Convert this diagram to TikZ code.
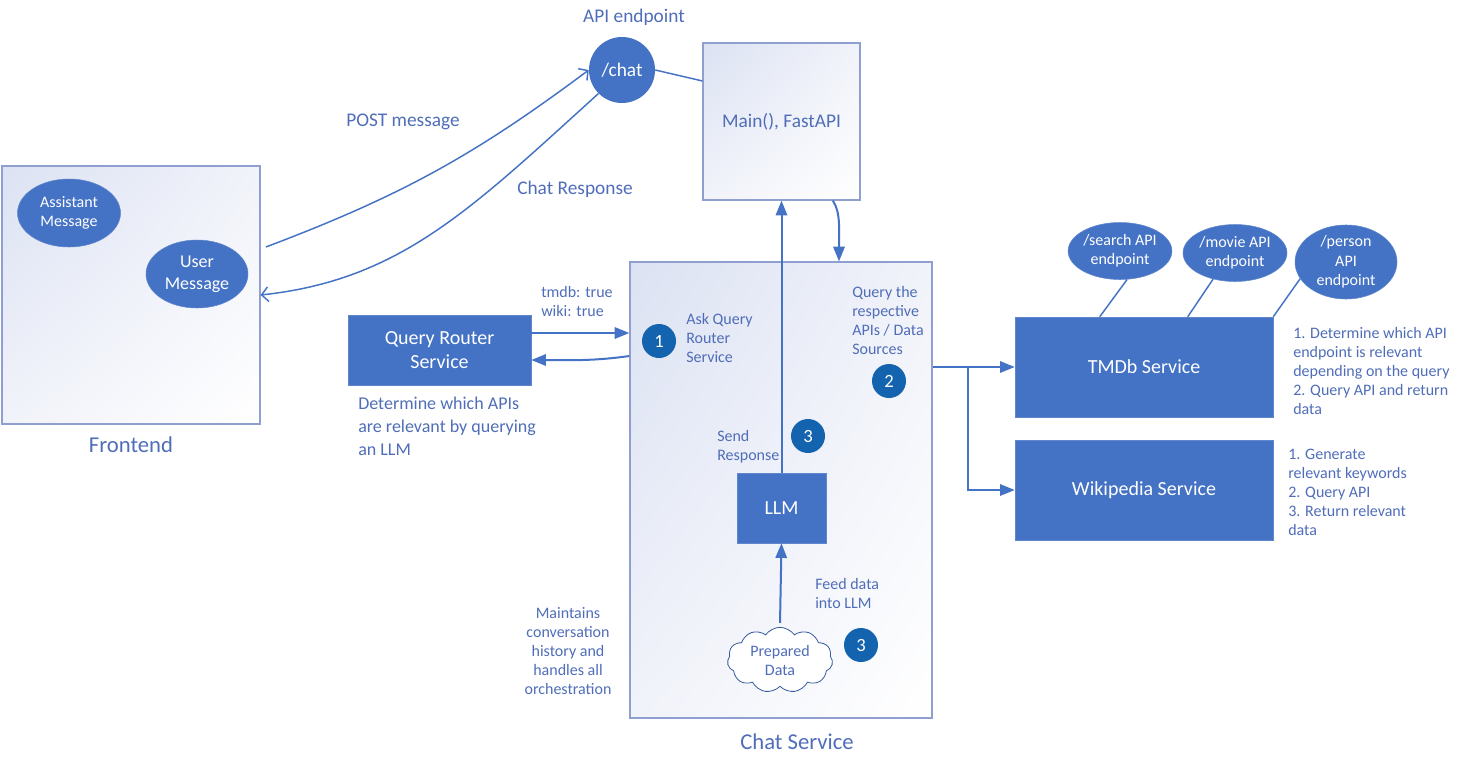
\documentclass[tikz,border=0pt]{standalone}
\usepackage{fontspec}
\setmainfont{Carlito}
\usepackage{xcolor}
\definecolor{lineBlue}{HTML}{4472C4}
\definecolor{textBlue}{HTML}{4F6DB8}
\definecolor{edgeGray}{HTML}{8E9FD0}
\definecolor{badgeBlue}{HTML}{1463AE}
\definecolor{shadeTop}{HTML}{DCE2F3}
\definecolor{shadeMid}{HTML}{F1F3FA}
\usetikzlibrary{positioning,calc,arrows.meta,shapes.geometric,shapes.symbols,shadings}
\tikzset{%
  containerBox/.style={%
    rectangle,
    draw=edgeGray,
    line width=0.9pt,
    upper left=shadeTop,
    upper right=shadeMid,
    lower left=shadeMid,
    lower right=white,
    text=textBlue,
    align=center,
    inner sep=0pt
  },
  serviceBox/.style={%
    rectangle,
    draw=lineBlue!85!white,
    fill=lineBlue,
    text=white,
    align=center,
    font=\fontsize{15}{17.5}\selectfont
  },
  endpointOval/.style={%
    ellipse,
    fill=lineBlue,
    draw=lineBlue!85!white,
    text=white,
    align=center,
    inner sep=0pt,
    font=\fontsize{12}{14.5}\selectfont
  },
  badgeDot/.style={%
    circle,
    fill=badgeBlue,
    text=white,
    minimum size=25.5pt,
    inner sep=0pt,
    font=\fontsize{14}{15}\selectfont
  },
  noteText/.style={%
    text=textBlue,
    align=left,
    inner sep=0pt,
    font=\fontsize{12}{14.25}\selectfont
  },
  titleText/.style={%
    text=textBlue,
    inner sep=0pt,
    font=\fontsize{14.5}{16}\selectfont
  },
  bigTitle/.style={%
    text=textBlue,
    inner sep=0pt,
    font=\fontsize{17}{19}\selectfont
  },
  fillArrow/.style={%
    -{Triangle[length=11pt,width=8.5pt]},
    line width=1.5pt,
    color=lineBlue
  },
  openArrow/.style={%
    -{Straight Barb[length=5pt,width=11pt]},
    line width=1.1pt,
    color=lineBlue
  },
  plainLine/.style={%
    line width=1.1pt,
    color=lineBlue
  }
}

\begin{document}
\begin{tikzpicture}[x=0.75pt,y=-0.75pt]
  \useasboundingbox (0,0) rectangle (1459,768);

  % containers
  \node[containerBox, minimum width=193.5pt, minimum height=193.5pt] (front) at (131,295) {};
  \node[containerBox, minimum width=117.75pt, minimum height=117.75pt, font=\fontsize{14.5}{16}\selectfont] (main) at (781.5,121.5) {Main(), FastAPI};
  \node[containerBox, minimum width=226.5pt, minimum height=342pt] (chat) at (781,490) {};
  \node[bigTitle] (frontTitle) at (131,445) {Frontend};
  \node[bigTitle] (chatTitle) at (797,742) {Chat Service};

  % frontend messages
  \node[endpointOval, minimum width=77.25pt, minimum height=51pt] (assistant) at (69,213) {Assistant\\Message};
  \node[endpointOval, minimum width=76.5pt, minimum height=51pt, font=\fontsize{13.5}{16.5}\selectfont] (user) at (197,274) {User\\Message};

  % api endpoint
  \node[circle, fill=lineBlue, text=white, minimum size=49.5pt, inner sep=0pt, font=\fontsize{14.5}{16}\selectfont] (api) at (622,70) {/chat};
  \node[titleText] (apiTitle) at (634,17) {API endpoint};
  \node[titleText] (postLabel) at (403,122) {POST message};
  \node[titleText] (respLabel) at (575,189) {Chat Response};

  % services
  \node[serviceBox, minimum width=137.25pt, minimum height=52.5pt] (qr) at (439.5,350) {Query Router\\Service};
  \node[serviceBox, minimum width=66.75pt, minimum height=52.5pt] (llm) at (781.5,508) {LLM};
  \node[serviceBox, minimum width=193.5pt, minimum height=75pt] (tmdb) at (1144,367) {TMDb Service};
  \node[serviceBox, minimum width=193.5pt, minimum height=75pt] (wiki) at (1144,490) {Wikipedia Service};
  \node[cloud, cloud puffs=11, cloud puff arc=110, aspect=1.7, draw=lineBlue!80!black, line width=0.6pt, fill=white, text=textBlue, align=center, inner sep=0pt, minimum width=79pt, minimum height=49pt, font=\fontsize{12}{14.25}\selectfont] (prepared) at (780,660) {Prepared\\Data};

  % tmdb endpoints
  \node[endpointOval, minimum width=70.5pt, minimum height=42.75pt] (search) at (1120,251) {/search API\\endpoint};
  \node[endpointOval, minimum width=78pt, minimum height=42.75pt] (movie) at (1235,253) {/movie API\\endpoint};
  \node[endpointOval, minimum width=76.5pt, minimum height=45pt] (person) at (1346,262) {/person\\API\\endpoint};

  % step badges
  \node[badgeDot] (stepOne) at (659,341) {1};
  \node[badgeDot] (stepTwo) at (889,381) {2};
  \node[badgeDot] (stepThreeA) at (808,436) {3};
  \node[badgeDot] (stepThreeB) at (861,645) {3};

  % notes
  \node[noteText, anchor=north west] (flags) at (541,286) {tmdb: true\\wiki: true};
  \node[noteText, anchor=north west] (askNote) at (686,313) {Ask Query\\Router\\Service};
  \node[noteText, anchor=north west] (queryNote) at (852,286) {Query the\\respective\\APIs / Data\\Sources};
  \node[noteText, anchor=north west] (sendNote) at (717,430) {Send\\Response};
  \node[noteText, anchor=north west] (feedNote) at (815,578) {Feed data\\into LLM};
  \node[noteText, anchor=north, align=center] (historyNote) at (568,607) {Maintains\\conversation\\history and\\handles all\\orchestration};
  \node[noteText, anchor=north west, font=\fontsize{13.5}{17}\selectfont] (routerNote) at (358,397) {Determine which APIs\\are relevant by querying\\an LLM};
  \node[noteText, anchor=north west] (tmdbNote) at (1293,327) {1. Determine which API\\endpoint is relevant\\depending on the query\\2. Query API and return\\data};
  \node[noteText, anchor=north west] (wikiNote) at (1288,449) {1. Generate\\relevant keywords\\2. Query API\\3. Return relevant\\data};

  % connectors
  \draw[openArrow] ([shift={(4pt,36pt)}]front.east) to[bend right=8] (api.west);
  \draw[openArrow] (api.-135) .. controls (470,210) and (400,280) .. (front.east);
  \draw[plainLine] (api.east) -- ([yshift=30.4pt]main.west);
  \draw[fillArrow] (llm.north) -- (main.south);
  \draw[fillArrow] (main.-57) .. controls +(8,12) and +(0,-30) .. ($(chat.north)+(58,0)$);

  \coordinate (qrTop) at ([yshift=12.75pt]qr.east);
  \coordinate (qrLow) at ([yshift=-4.5pt]qr.east);
  \draw[fillArrow] (qrTop) -- (qrTop -| chat.west);
  \draw[fillArrow] (qrLow -| chat.west) to[out=188,in=0] ([yshift=-7.5pt]qr.east);

  \draw[fillArrow] ([yshift=3pt]prepared.north) -- (llm.south);

  \coordinate (split) at (968,367);
  \draw[fillArrow] (chat.east |- tmdb) -- (tmdb.west);
  \draw[fillArrow] (split) |- (wiki.west);

  \draw[plainLine] (search.-76) -- ([xshift=63.75pt]tmdb.north west);
  \draw[plainLine] (movie.-130) -- ([xshift=129.75pt]tmdb.north west);
  \draw[plainLine] (person.200) -- (tmdb.north east);
\end{tikzpicture}
\end{document}
